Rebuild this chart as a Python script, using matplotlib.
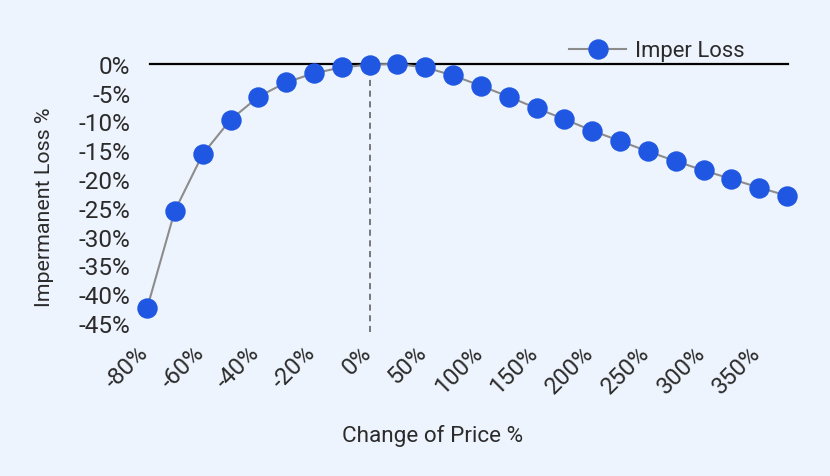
import matplotlib
matplotlib.use("Agg")
import matplotlib.pyplot as plt
import matplotlib.transforms as mtransforms

categories = ['-80%', '-70%', '-60%', '-50%', '-40%', '-30%', '-20%', '-10%', '0%',
              '25%', '50%', '75%', '100%', '125%', '150%', '175%', '200%', '225%',
              '250%', '275%', '300%', '325%', '350%', '375%']
il_values = [-42.5, -25.5, -15.7, -9.7, -5.7, -3.2, -1.6, -0.6, -0.1, 0.0,
             -0.6, -2.0, -3.8, -5.7, -7.7, -9.6, -11.6, -13.4, -15.2, -16.9,
             -18.5, -20.0, -21.5, -22.9]
shown_ticks = ['-80%', '-60%', '-40%', '-20%', '0%', '50%', '100%', '150%',
               '200%', '250%', '300%', '350%']
y_ticks = [0, -5, -10, -15, -20, -25, -30, -35, -40, -45]
series_name = 'Imper Loss'

BG = '#eef4fd'
BLUE = '#1f57e3'
TXT = '#2b2b2b'

plt.rcParams['font.family'] = ['Roboto', 'DejaVu Sans']
plt.rcParams['font.weight'] = 'normal'

fig = plt.figure(figsize=(8.30, 4.77), dpi=100, facecolor=BG)
ax = fig.add_axes([0.1604, 0.3019, 0.8046, 0.586])
ax.set_facecolor(BG)

x = list(range(len(categories)))
ax.axhline(0, xmin=0.025, xmax=0.981, color='black', lw=1.6, zorder=1)
zero_idx = categories.index('0%')
ax.plot([zero_idx, zero_idx], [-46.6, 0], color='#555555', lw=1.1,
        ls=(0, (4, 3)), zorder=1)
ax.plot(x, il_values, color='#8c8c8c', lw=1.5, marker='o', markersize=13.7,
        markerfacecolor=BLUE, markeredgecolor=BLUE, label=series_name,
        zorder=3, clip_on=False)

ax.set_xlim(-0.5, len(categories) - 0.5)
ax.set_ylim(-46.6, 2.0)

ax.set_yticks(y_ticks)
ax.set_yticklabels([f"{v}%" for v in y_ticks])
tick_pos = [categories.index(c) for c in shown_ticks]
ax.set_xticks(tick_pos)
ax.set_xticklabels(shown_ticks, rotation=45, ha='right', va='top')

ax.tick_params(axis='y', length=0, pad=2, labelsize=17.5, labelcolor=TXT)
ax.tick_params(axis='x', length=0, pad=6, labelsize=17, labelcolor=TXT)
offset = mtransforms.ScaledTranslation(0.06, 0, fig.dpi_scale_trans)
for lab in ax.get_xticklabels():
    lab.set_transform(lab.get_transform() + offset)
for s in ax.spines.values():
    s.set_visible(False)

fig.text(45 / 830, 1 - 207 / 477, 'Impermanent Loss %', rotation=90,
         ha='center', va='center', fontsize=15.4, color=TXT)
fig.text(433 / 830, 1 - 436 / 477, 'Change of Price %',
         ha='center', va='center', fontsize=16.2, color=TXT)

ax.legend(loc='center left', bbox_to_anchor=(569 / 830, 1 - 52 / 477),
          bbox_transform=fig.transFigure, frameon=False, borderpad=0,
          borderaxespad=0, handlelength=2.6, handletextpad=0.42,
          fontsize=15.8, labelcolor=TXT)

fig.savefig('out.png', dpi=100, facecolor=BG)
